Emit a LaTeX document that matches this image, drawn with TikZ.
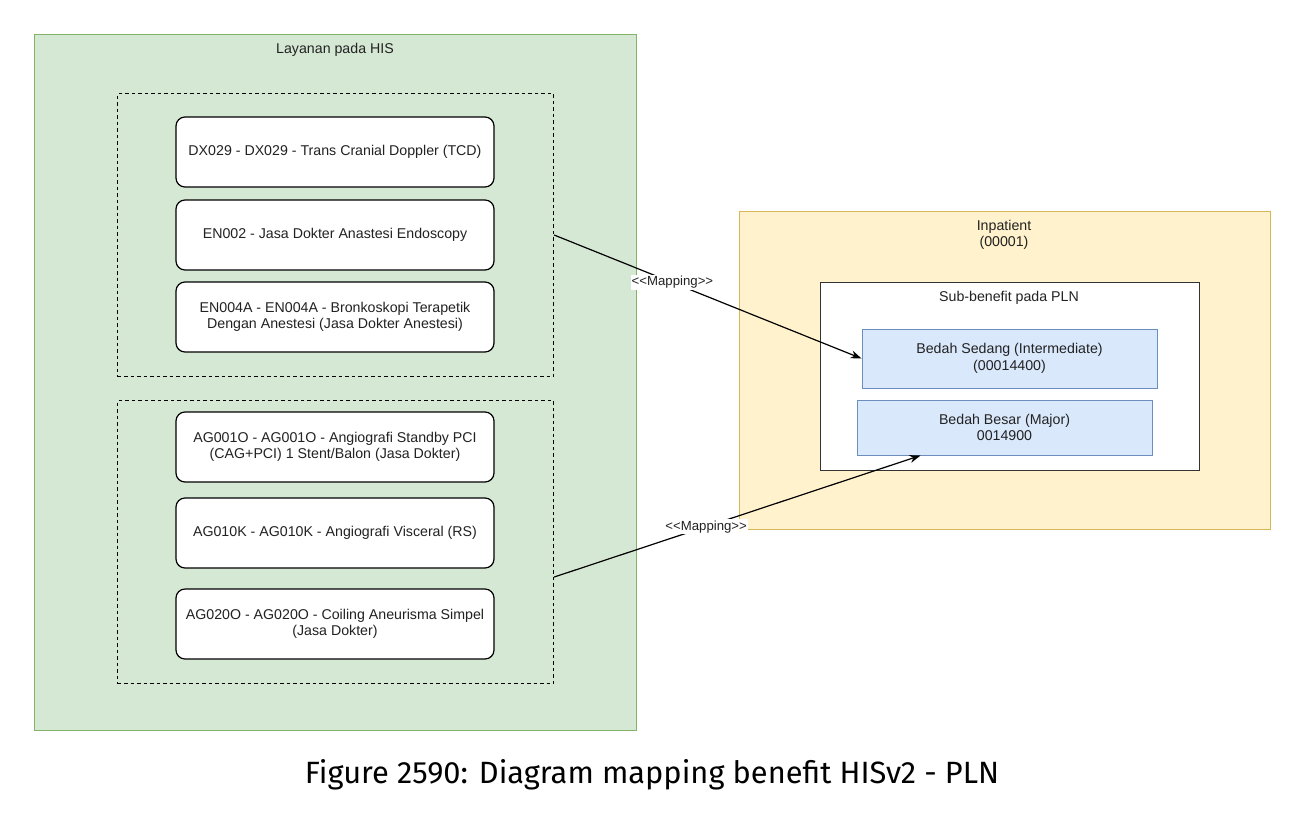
\documentclass[tikz,border=0pt]{standalone}
\usepackage{fontspec}
\setmainfont{Liberation Sans}
\newfontfamily\capfont{Fira Sans}
\usepackage{xcolor}
\usetikzlibrary{arrows.meta,positioning}
\definecolor{hisfill}{HTML}{D5E8D4}
\definecolor{hisdraw}{HTML}{82B366}
\definecolor{plnfill}{HTML}{FFF2CC}
\definecolor{plndraw}{HTML}{D6B656}
\definecolor{subfill}{HTML}{DAE8FC}
\definecolor{subdraw}{HTML}{6C8EBF}
\definecolor{txt}{HTML}{222222}

\begin{document}
\begin{tikzpicture}[x=1pt,y=-1pt, every node/.style={font=\fontsize{14.2}{16.5}\selectfont,text=txt}, area/.style={draw,line width=1.3pt,anchor=north west,inner sep=0pt}, group/.style={draw,dashed,dash pattern=on 3.5pt off 3pt,line width=1.1pt,anchor=north west,inner sep=0pt,minimum width=436pt,minimum height=283pt}, svc/.style={draw,fill=white,rounded corners=9pt,line width=1.2pt,minimum width=318pt,minimum height=70pt,align=center}, sub/.style={draw=subdraw,fill=subfill,line width=1pt,minimum width=295pt,align=center}, maplink/.style={-{Stealth[length=11pt,width=8pt]},line width=1.2pt}, maplabel/.style={fill=white,inner sep=1pt,font=\fontsize{13.2}{15}\selectfont}]
    \useasboundingbox (0,0) rectangle (1305,814);
    \node[area,fill=hisfill,draw=hisdraw,minimum width=602pt,minimum height=696pt] (his) at (34,34) {};
    \node (histitle) at (335,50) {Layanan pada HIS};
    \node[group] (dashA) at (117,93) {};
    \node[group] (dashB) at (117,400) {};
    \node[svc] (dx029) at (335,152) {DX029 - DX029 - Trans Cranial Doppler (TCD)};
    \node[svc] (en002) at (335,235) {EN002 - Jasa Dokter Anastesi Endoscopy};
    \node[svc] (en004) at (335,317) {EN004A - EN004A - Bronkoskopi Terapetik\\Dengan Anestesi (Jasa Dokter Anestesi)};
    \node[svc] (ag001) at (335,447) {AG001O - AG001O - Angiografi Standby PCI\\(CAG+PCI) 1 Stent/Balon (Jasa Dokter)};
    \node[svc] (ag010) at (335,533) {AG010K - AG010K - Angiografi Visceral (RS)};
    \node[svc] (ag020) at (335,624) {AG020O - AG020O - Coiling Aneurisma Simpel\\(Jasa Dokter)};
    \node[area,fill=plnfill,draw=plndraw,minimum width=531pt,minimum height=318pt] (inpat) at (739,211) {};
    \node[align=center] (inpattitle) at (1004,235) {Inpatient\\(00001)};
    \node[area,fill=white,draw=black!80,minimum width=379pt,minimum height=188pt] (plnbox) at (820,282) {};
    \node (plntitle) at (1009,298) {Sub-benefit pada PLN};
    \node[sub,minimum height=59pt] (sedang) at (1009.5,358.5) {Bedah Sedang (Intermediate)\\(00014400)};
    \node[sub,minimum height=55pt] (besar) at (1004.5,427.5) {Bedah Besar (Major)\\0014900};
    \coordinate (fromA) at (dashA.east |- en002.east);
    \coordinate (fromB) at ([yshift=-35pt]dashB.east);
    \coordinate (toB) at ([xshift=-84pt]besar.south);
    \draw[maplink] (fromA) -- node[maplabel,pos=0.385] {{<}{<}Mapping{>}{>}} (sedang.west);
    \draw[maplink] (fromB) -- node[maplabel,pos=0.415] {{<}{<}Mapping{>}{>}} (toB);
    \node[font=\capfont\fontsize{30.8}{34}\selectfont,text=black] (caption) at (652,775) {Figure 2590: Diagram mapping benefit HISv2 - PLN};
\end{tikzpicture}
\end{document}
